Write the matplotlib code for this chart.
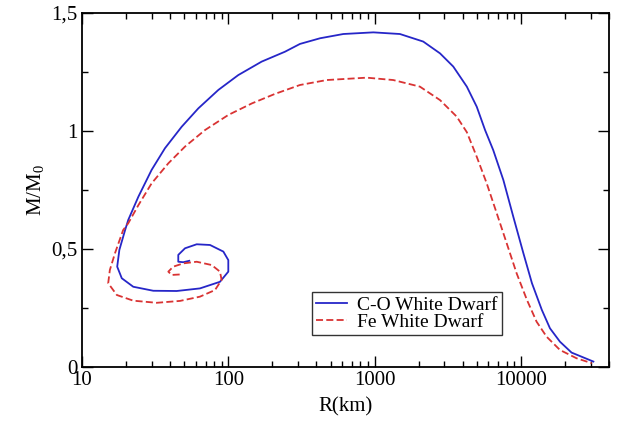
import matplotlib
matplotlib.use("Agg")
import matplotlib.pyplot as plt
from matplotlib.ticker import FixedLocator, FuncFormatter, LogLocator, NullFormatter, MultipleLocator

plt.rcParams['font.family'] = ['Liberation Serif', 'DejaVu Serif']
plt.rcParams['mathtext.fontset'] = 'custom'
plt.rcParams['mathtext.rm'] = 'Liberation Serif'
plt.rcParams['mathtext.it'] = 'Liberation Serif:italic'

# C-O White Dwarf (R in km, M/M0), traced from the inner spiral end outwards
co_r = [54.1, 49.2, 45.5, 45.5, 50.6, 60.8, 75, 92.5, 100, 100, 87.7, 64, 44.4, 30.7,
        22.4, 18.7, 17.4, 18, 19.7, 20.7, 24.3, 29.9, 36.9, 48, 62.4, 85.5, 117, 169,
        244, 309, 424, 611, 980, 1490, 2150, 2800, 3450, 4270, 4990, 5690, 6470, 7590,
        8870, 10400, 11900, 13900, 15800, 18500, 22200, 31300]
co_m = [0.45, 0.444, 0.446, 0.475, 0.503, 0.52, 0.517, 0.489, 0.453, 0.404, 0.361, 0.333,
        0.322, 0.323, 0.34, 0.376, 0.425, 0.496, 0.58, 0.623, 0.722, 0.835, 0.927, 1.018,
        1.096, 1.174, 1.237, 1.294, 1.336, 1.369, 1.393, 1.411, 1.418, 1.411, 1.379,
        1.329, 1.273, 1.188, 1.103, 1.004, 0.919, 0.792, 0.637, 0.482, 0.355, 0.242,
        0.164, 0.107, 0.061, 0.023]

# Fe White Dwarf
fe_r = [46.5, 41, 38.9, 42, 49.2, 60.8, 77, 87.7, 90, 81.1, 64, 46.8, 32.4, 22.4, 17.3,
        15.1, 15.5, 16.8, 19.1, 20.7, 24.3, 29.9, 38.9, 50.6, 69.3, 100, 145, 208, 309,
        471, 883, 1340, 2040, 2800, 3640, 4270, 4990, 5840, 6840, 8000, 9350, 11000,
        12800, 15000, 18500, 24000, 30500]
fe_m = [0.392, 0.39, 0.404, 0.425, 0.439, 0.446, 0.432, 0.404, 0.369, 0.326, 0.298, 0.28,
        0.272, 0.281, 0.305, 0.355, 0.411, 0.482, 0.58, 0.609, 0.686, 0.778, 0.863, 0.934,
        1.004, 1.068, 1.117, 1.157, 1.195, 1.216, 1.226, 1.216, 1.188, 1.131, 1.061,
        0.995, 0.891, 0.778, 0.651, 0.524, 0.397, 0.284, 0.192, 0.128, 0.072, 0.037,
        0.016]

x_ticks = [10, 100, 1000, 10000]
y_ticks = [0, 0.5, 1, 1.5]

fig = plt.figure(figsize=(6.18, 4.21), dpi=100)
ax = fig.add_axes([0.1327, 0.1283, 0.8527, 0.8408])

ax.plot(co_r, co_m, color='#2626c8', lw=1.3, solid_joinstyle='round',
        label='C-O White Dwarf')
ax.plot(fe_r, fe_m, color='#d93333', lw=1.3, dashes=(3.9, 1.8),
        label='Fe White Dwarf')

ax.set_xscale('log')
ax.set_xlim(10, 40000)
ax.set_ylim(0, 1.5)

ax.xaxis.set_major_locator(FixedLocator(x_ticks))
ax.xaxis.set_major_formatter(FuncFormatter(lambda v, p: f"{int(round(v))}"))
ax.xaxis.set_minor_locator(LogLocator(base=10, subs=range(2, 10), numticks=20))
ax.xaxis.set_minor_formatter(NullFormatter())

def yfmt(v, p):
    return f"{v:g}".replace('.', ',')
ax.yaxis.set_major_locator(FixedLocator(y_ticks))
ax.yaxis.set_major_formatter(FuncFormatter(yfmt))
ax.yaxis.set_minor_locator(MultipleLocator(0.25))

ax.tick_params(which='both', direction='in', top=True, right=True, labelsize=15, width=1.0)
ax.tick_params(which='major', length=8, pad=3)
ax.tick_params(which='minor', length=4)
for s in ax.spines.values():
    s.set_linewidth(1.3)

ax.set_xlabel('R(km)', fontsize=15, labelpad=5)
ax.set_ylabel('M/M$_0$', fontsize=15, labelpad=4)

leg = ax.legend(loc='lower left', bbox_to_anchor=(0.436, 0.09), fontsize=14, frameon=True,
                fancybox=False, edgecolor='black', handlelength=1.6, handletextpad=0.55,
                borderpad=0.2, labelspacing=0.0, borderaxespad=0)
leg.get_frame().set_linewidth(1.0)

fig.savefig('out.png', dpi=100)
